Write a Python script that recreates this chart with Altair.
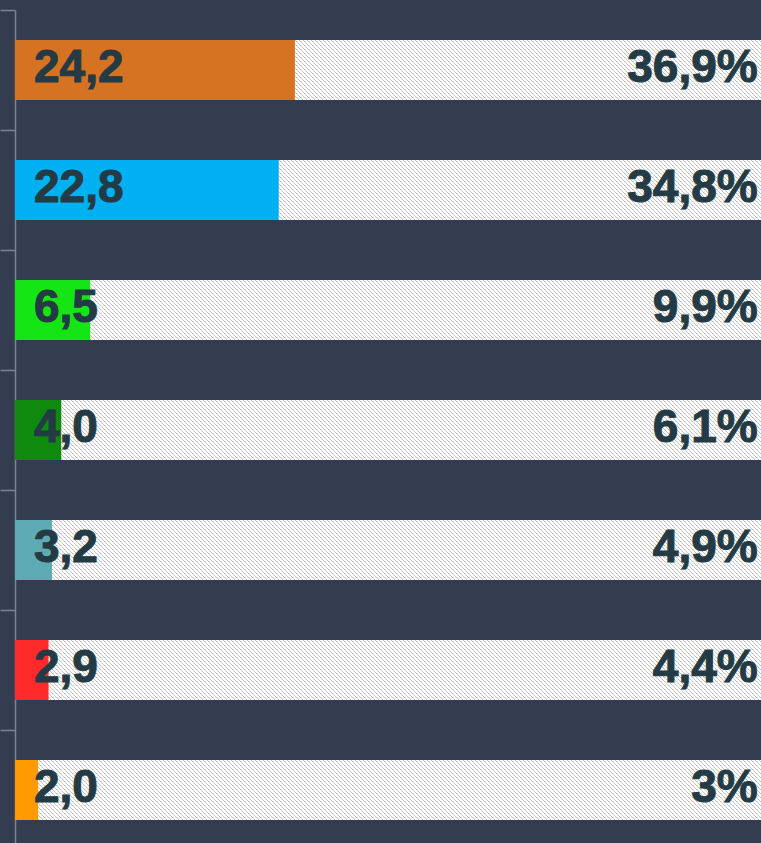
import base64
import altair as alt
import pandas as pd

# ---- data ----
rows = ["r1", "r2", "r3", "r4", "r5", "r6", "r7"]
values = [24.2, 22.8, 6.5, 4.0, 3.2, 2.9, 2.0]
value_labels = ["24,2", "22,8", "6,5", "4,0", "3,2", "2,9", "2,0"]
share_labels = ["36,9%", "34,8%", "9,9%", "6,1%", "4,9%", "4,4%", "3%"]
bar_colors = ["#d67323", "#00b0f0", "#15e515", "#0f8a0f", "#5eabb5", "#ff2b2b", "#ff9a00"]

total = round(sum(values), 1)

df = pd.DataFrame({
    "row": rows,
    "value": values,
    "vlabel": value_labels,
    "plabel": share_labels,
    "color": bar_colors,
    "total": [total] * len(rows),
    "zero": [0.0] * len(rows),
})

# ---- style ----
BG = "#343d50"
TEXT = "#243a44"
AXIS = "#7d838f"
FONT = "Liberation Sans"
PLOT_W = 746
X_MAX = 64.5
BAR_H = 60

# hatch texture ("\" diagonal, 4 px period) as an SVG image
img_w = total / X_MAX * PLOT_W
tile = '<rect width="4" height="4" fill="#ffffff"/>' + "".join(
    f'<rect x="{i}" y="{i}" width="1" height="1" fill="#bbbbbb"/>' for i in range(4)
)
svg = (
    f'<svg xmlns="http://www.w3.org/2000/svg" width="{img_w:.2f}" height="{BAR_H}" '
    f'viewBox="0 0 {img_w:.2f} {BAR_H}" preserveAspectRatio="none" shape-rendering="crispEdges">'
    f'<defs><pattern id="p" width="4" height="4" patternUnits="userSpaceOnUse">{tile}</pattern></defs>'
    f'<rect width="{img_w:.2f}" height="{BAR_H}" fill="url(#p)"/></svg>'
)
hatch_url = "data:image/svg+xml;base64," + base64.b64encode(svg.encode()).decode()

xscale = alt.Scale(domain=[0, X_MAX], nice=False, zero=True)
y = alt.Y(
    "row:N",
    sort=rows,
    scale=alt.Scale(range=[0, 840], paddingInner=0, paddingOuter=0),
    axis=alt.Axis(
        labels=False, title=None, tickBand="extent", tickSize=15,
        tickColor=AXIS, domainColor=AXIS, tickWidth=1.5, domainWidth=1.5,
        grid=False,
    ),
)

base = alt.Chart(df)

back = base.mark_bar(fill="#e9e9e9", size=BAR_H, clip=True).encode(
    x=alt.X("total:Q", scale=xscale, axis=None),
    y=y,
)

hatch = base.mark_image(
    url=hatch_url, height=BAR_H, aspect=False, baseline="middle", align="left", clip=True
).encode(
    x=alt.X("zero:Q", scale=xscale, axis=None),
    x2="total:Q",
    y=alt.Y("row:N", sort=rows, bandPosition=0.5),
)

bars = base.mark_bar(size=BAR_H, clip=True).encode(
    x=alt.X("value:Q", scale=xscale, axis=None),
    y=y,
    color=alt.Color("color:N", scale=None, legend=None),
)

txt_style = dict(
    baseline="middle", dy=-2, fontSize=46, fontWeight="bold", font=FONT,
    color=TEXT, stroke=TEXT, strokeWidth=1.0,
)

vtext = base.mark_text(align="left", dx=19, **txt_style).encode(
    x=alt.X("zero:Q", scale=xscale, axis=None),
    y=y,
    text="vlabel:N",
)

ptext = base.mark_text(align="right", dx=-16, **txt_style).encode(
    x=alt.X("total:Q", scale=xscale, axis=None),
    y=y,
    text="plabel:N",
)

chart = alt.layer(back, hatch, bars, vtext, ptext).properties(
    width=PLOT_W,
    height=833,
    background=BG,
    padding={"left": 15, "top": 10, "right": 0, "bottom": 0},
    autosize=alt.AutoSizeParams(type="none"),
).configure_view(stroke=None)

chart.save("out.html", embed_options={"renderer": "svg", "actions": False})
